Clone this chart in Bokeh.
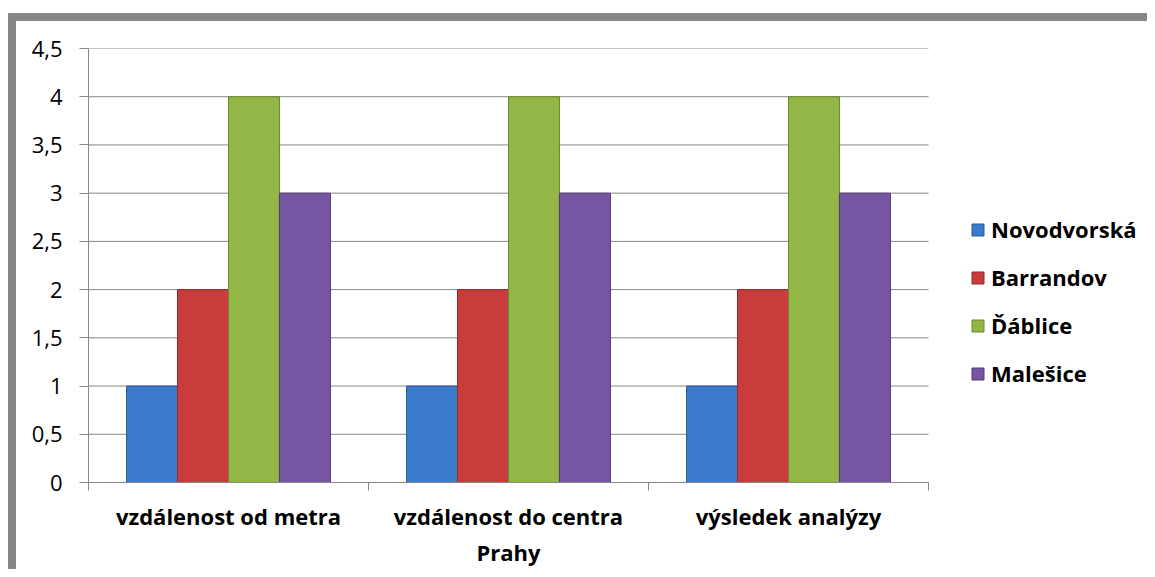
from bokeh.plotting import figure
from bokeh.models import Range1d, FixedTicker, Legend, LegendItem, ColumnDataSource
from bokeh.transform import dodge
from bokeh.embed import file_html
from bokeh.resources import INLINE

categories = ["vzdálenost od metra", "vzdálenost do centra\nPrahy", "výsledek analýzy"]
series = ["Novodvorská", "Barrandov", "Ďáblice", "Malešice"]
novodvorska = [1, 1, 1]
barrandov = [2, 2, 2]
dablice = [4, 4, 4]
malesice = [3, 3, 3]
y_ticks = [0, 0.5, 1, 1.5, 2, 2.5, 3, 3.5, 4, 4.5]
y_tick_labels = ["0", "0,5", "1", "1,5", "2", "2,5", "3", "3,5", "4", "4,5"]

colors = ["#3b7bcb", "#c83d3b", "#93b646", "#7655a3"]
edges = ["#2a5a98", "#962b2a", "#6c8833", "#54397a"]
values = [novodvorska, barrandov, dablice, malesice]

GREY = "#878787"
FONT = "Open Sans"

# geometry (pixels)
BORDER = 8
W, H = 1139, 556
BL, BR, BT, BB = 72, 0, 27, 95
PLOT_W = 840          # width of the category area
frame_w = W - BL - BR
n = len(categories)
x_end = n * frame_w / PLOT_W

p = figure(width=W, height=H, output_backend="svg", toolbar_location=None,
           x_range=Range1d(0, x_end), y_range=Range1d(0, 4.5),
           min_border_left=BL, min_border_right=BR, min_border_top=BT, min_border_bottom=BB)
p.styles = {"border-left": f"{BORDER}px solid " + GREY, "border-top": f"{BORDER}px solid " + GREY,
            "margin-top": "13px", "margin-left": "8px"}
p.outline_line_color = None
p.background_fill_color = "white"
p.border_fill_color = "white"
p.xgrid.grid_line_color = None
p.ygrid.grid_line_color = None

# horizontal gridlines limited to the category area
p.segment(x0=[0] * len(y_ticks), x1=[n] * len(y_ticks), y0=y_ticks, y1=y_ticks,
          line_color=GREY, line_width=1)

centers = [i + 0.5 for i in range(n)]
src = ColumnDataSource(dict(x=centers, **{f"s{j}": v for j, v in enumerate(values)}))

bw = 0.182
items = []
for j, name in enumerate(series):
    r = p.vbar(x=dodge("x", (j - 1.5) * bw, range=p.x_range), top=f"s{j}", width=bw,
               source=src, fill_color=colors[j], line_color=edges[j], line_width=1)
    items.append(LegendItem(label=name, renderers=[r]))

legend = Legend(items=items, location=(882, 94), border_line_color=None,
                background_fill_alpha=0, padding=0, margin=0,
                glyph_width=15, glyph_height=15, label_standoff=6,
                label_text_font=FONT, label_text_font_style="bold",
                label_text_color="black",
                label_text_font_size="22px", label_height=30, spacing=18)
p.add_layout(legend, "center")

# y axis
p.yaxis.ticker = FixedTicker(ticks=y_ticks)
p.yaxis.major_label_overrides = dict(zip(y_ticks, y_tick_labels))
p.yaxis.major_label_text_font = FONT
p.yaxis.major_label_text_font_size = "22px"
p.yaxis.major_label_text_color = "black"
p.yaxis.axis_line_color = GREY
p.yaxis.major_tick_line_color = GREY
p.yaxis.major_tick_out = 9
p.yaxis.major_tick_in = 0
p.yaxis.minor_tick_line_color = None
p.yaxis.major_label_standoff = 17

# x axis
p.xaxis.bounds = (0, n)
p.xaxis.ticker = FixedTicker(ticks=centers, minor_ticks=list(range(n + 1)))
p.xaxis.major_label_overrides = dict(zip(centers, categories))
p.xaxis.major_label_text_font = FONT
p.xaxis.major_label_text_font_style = "bold"
p.xaxis.major_label_text_font_size = "22px"
p.xaxis.major_label_text_color = "black"
p.xaxis.axis_line_color = GREY
p.xaxis.major_tick_line_color = None
p.xaxis.major_tick_out = 0
p.xaxis.major_tick_in = 0
p.xaxis.minor_tick_line_color = GREY
p.xaxis.minor_tick_out = 8
p.xaxis.minor_tick_in = 0
p.xaxis.major_label_standoff = 10

open("out.html", "w").write(file_html(p, INLINE))
